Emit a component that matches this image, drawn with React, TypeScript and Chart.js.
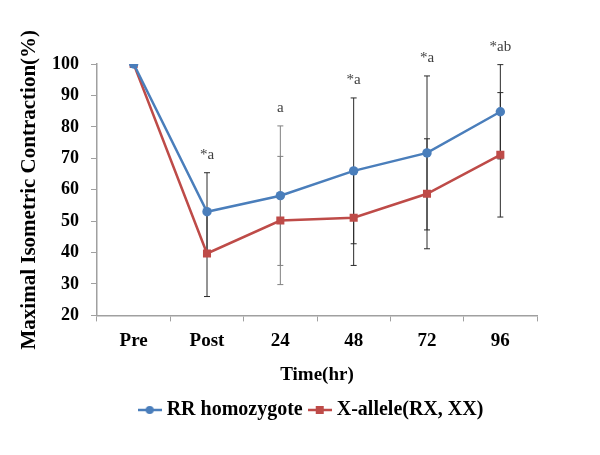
import React, { useEffect, useRef } from "react";
import { Chart, registerables } from "chart.js";

Chart.register(...registerables);

const categories = ["Pre", "Post", "24", "48", "72", "96"];
const rrMean = [100, 53.0, 58.1, 66.0, 71.7, 84.8];
const rrErr = [0, 12.4, 22.2, 23.2, 24.5, 15.0];
const xMean = [100, 39.7, 50.2, 51.1, 58.7, 71.1];
const xErr = [0, 13.7, 20.4, 15.2, 17.5, 19.8];
const sigLabels = ["", "*a", "a", "*a", "*a", "*ab"];
const seriesNames = ["RR homozygote", "X-allele(RX, XX)"];

const BLUE = "#4a7ebb";
const RED = "#be4b48";
const SERIF = "'Liberation Serif', 'Times New Roman', serif";

function legendIcon(color: string, shape: "circle" | "rect") {
  const c = document.createElement("canvas");
  c.width = 24;
  c.height = 12;
  const ctx = c.getContext("2d")!;
  ctx.strokeStyle = color;
  ctx.lineWidth = 2.5;
  ctx.beginPath();
  ctx.moveTo(0, 6);
  ctx.lineTo(24, 6);
  ctx.stroke();
  ctx.fillStyle = color;
  if (shape === "circle") {
    ctx.beginPath();
    ctx.arc(12, 6, 4, 0, Math.PI * 2);
    ctx.fill();
  } else {
    ctx.fillRect(8, 2, 8, 8);
  }
  return c;
}

const errorBarPlugin = {
  id: "errorBars",
  afterLayout(chart: any) {
    if (chart.legend) {
      chart.legend.left = 26;
      chart.legend.right = chart.width;
    }
  },
  beforeDatasetsDraw(chart: any) {
    const { ctx } = chart;
    const y = chart.scales.y;
    const errs = [rrErr, xErr];
    const means = [rrMean, xMean];
    ctx.save();
    ctx.lineWidth = 1;
    for (let d = 0; d < 2; d++) {
      const meta = chart.getDatasetMeta(d);
      meta.data.forEach((pt: any, i: number) => {
        const e = errs[d][i];
        if (!e) return;
        const top = y.getPixelForValue(means[d][i] + e);
        const bot = y.getPixelForValue(means[d][i] - e);
        ctx.strokeStyle = i === 2 ? "#808080" : "#2a2a2a";
        ctx.beginPath();
        ctx.moveTo(pt.x, top);
        ctx.lineTo(pt.x, bot);
        ctx.moveTo(pt.x - 3, top);
        ctx.lineTo(pt.x + 3, top);
        ctx.moveTo(pt.x - 3, bot);
        ctx.lineTo(pt.x + 3, bot);
        ctx.stroke();
      });
    }
    ctx.restore();
  },
  afterDraw(chart: any) {
    const { ctx } = chart;
    const y = chart.scales.y;
    const meta = chart.getDatasetMeta(0);
    ctx.save();
    ctx.font = `15px ${SERIF}`;
    ctx.fillStyle = "#404040";
    ctx.textAlign = "center";
    ctx.textBaseline = "alphabetic";
    sigLabels.forEach((lab, i) => {
      if (!lab) return;
      const top = Math.max(rrMean[i] + rrErr[i], xMean[i] + xErr[i]);
      const py = y.getPixelForValue(top);
      ctx.fillText(lab, meta.data[i].x, py - 14);
    });
    ctx.restore();
  },
};

export default function App() {
  const ref = useRef<HTMLCanvasElement>(null);
  useEffect(() => {
    const icons = [legendIcon(BLUE, "circle"), legendIcon(RED, "rect")];
    const chart = new Chart(ref.current!, {
      type: "line",
      data: {
        labels: categories,
        datasets: [
          {
            label: seriesNames[0],
            data: rrMean,
            borderColor: BLUE,
            backgroundColor: BLUE,
            borderWidth: 2.5,
            pointStyle: "circle",
            pointRadius: 4.7,
            pointBorderWidth: 0,
          },
          {
            label: seriesNames[1],
            data: xMean,
            borderColor: RED,
            backgroundColor: RED,
            borderWidth: 2.5,
            pointStyle: "rect",
            pointRadius: 5.7,
            pointBorderWidth: 0,
          },
        ],
      },
      options: {
        animation: false,
        responsive: true,
        maintainAspectRatio: false,
        layout: { padding: { top: 64, right: 63, left: 17, bottom: 25 } },
        plugins: {
          tooltip: { enabled: false },
          legend: {
            position: "bottom",
            labels: {
              usePointStyle: true,
              pointStyleWidth: 14,
              padding: 10,
              color: "#000",
              font: { family: SERIF, size: 20, weight: "bold" },
              generateLabels: (chart: any) =>
                chart.data.datasets.map((ds: any, i: number) => ({
                  text: ds.label,
                  pointStyle: icons[i],
                  fillStyle: ds.borderColor,
                  strokeStyle: ds.borderColor,
                  lineWidth: 0,
                  hidden: false,
                  datasetIndex: i,
                  fontColor: "#000",
                })),
            },
          },
        },
        scales: {
          x: {
            offset: true,
            grid: { offset: true, drawOnChartArea: false, drawTicks: true, tickLength: 6, color: "#a0a0a0" },
            border: { color: "#a0a0a0", width: 1.5 },
            ticks: { color: "#000", padding: 8, font: { family: SERIF, size: 19, weight: "bold" } },
            title: {
              display: true,
              text: "Time(hr)",
              color: "#000",
              padding: { top: 3, bottom: 4 },
              font: { family: SERIF, size: 19, weight: "bold" },
            },
          },
          y: {
            min: 20,
            max: 100,
            afterFit: (s: any) => {
              s.width = 80;
            },
            grid: { drawOnChartArea: false, drawTicks: true, tickLength: 6, color: "#a0a0a0" },
            border: { color: "#a0a0a0", width: 1.5 },
            ticks: { stepSize: 10, color: "#000", padding: 12, font: { family: SERIF, size: 18, weight: "bold" } },
            title: {
              display: true,
              text: "Maximal Isometric Contraction(%)",
              color: "#000",
              padding: { top: 0, bottom: 0 },
              font: { family: SERIF, size: 21, weight: "bold" },
            },
          },
        },
      },
      plugins: [errorBarPlugin],
    } as any);
    return () => chart.destroy();
  }, []);
  return (
    <div style={{ position: "fixed", left: 0, top: 0, width: 600, height: 455, background: "#fff" }}>
      <canvas ref={ref} />
    </div>
  );
}
